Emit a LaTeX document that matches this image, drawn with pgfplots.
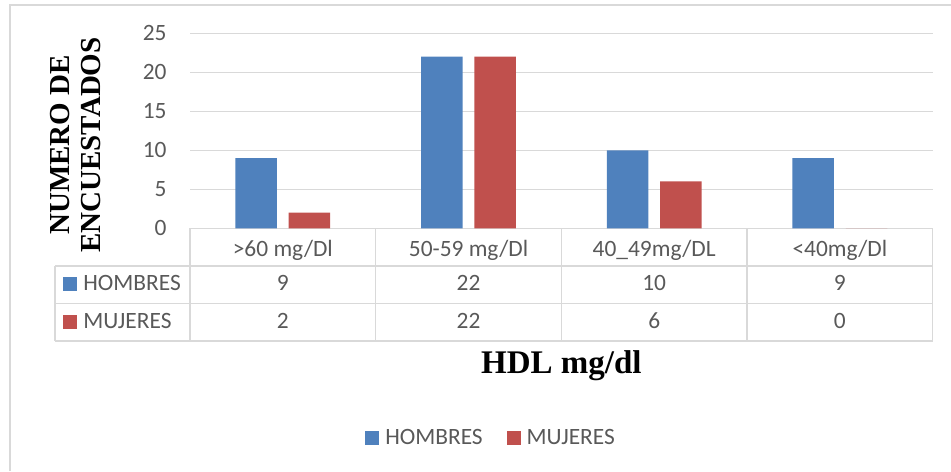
\documentclass[border=0pt]{standalone}
\usepackage{pgfplots}
\pgfplotsset{compat=1.18}
\usepackage{fontspec}
\setmainfont{Carlito}
\newfontfamily\serifb{Liberation Serif}
\definecolor{hblue}{HTML}{4F81BD}
\definecolor{mred}{HTML}{C0504D}
\definecolor{gridc}{HTML}{D9D9D9}
\definecolor{txt}{HTML}{595959}
\newcommand{\calf}{\fontsize{11.7}{14}\selectfont}
\begin{document}
\begin{tikzpicture}[x=1pt,y=1pt]
\path[use as bounding box] (0,0) rectangle (475.5,235.5);
\draw[gridc, line width=0.65pt] (5,0) -- (5,233) -- (475.5,233);
\begin{axis}[
  at={(95pt,121.35pt)}, anchor=south west,
  width=371.35pt, height=97.5pt, scale only axis,
  xmin=-0.5, xmax=3.5, ymin=0, ymax=25,
  ybar=5.9pt, bar width=20.75pt,
  axis line style={draw=none},
  ytick={0,5,10,15,20,25},
  ymajorgrids, major grid style={gridc, line width=0.65pt},
  tick style={draw=none},
  xtick={0,1,2,3},
  xticklabels={{>60 mg/Dl},{50-59 mg/Dl},{40\_49mg/DL},{<40mg/Dl}},
  /pgf/number format/assume math mode=true,
  ticklabel style={font=\calf, text=txt},
  xticklabel style={anchor=base, inner sep=0pt, yshift=-9.85pt},
  yticklabel style={anchor=east, inner sep=0pt, xshift=-11.5pt},
  xlabel={HDL mg/dl},
  xlabel style={at={(axis description cs:0.5,-0.7436)}, anchor=base, font=\serifb\bfseries\fontsize{16.5}{18}\selectfont, text=black},
  ylabel={NUMERO DE\\ENCUESTADOS},
  ylabel style={at={(axis description cs:-0.1542,0.427)}, anchor=center, rotate=0, align=center, font=\serifb\bfseries\fontsize{14.5}{15.5}\selectfont, text=black},
  legend style={at={(axis description cs:0.404,-1.075)}, anchor=center, draw=none, fill=none,
    legend columns=2, font=\calf, text=txt, nodes={inner sep=0pt},
    /tikz/every odd column/.append style={column sep=3pt},
    /tikz/every even column/.append style={column sep=12pt}},
  legend image code/.code={\fill[#1] (0pt,-3.5pt) rectangle (7pt,3.5pt);},
]
\addplot[fill=hblue, draw=none] coordinates {(0,9) (1,22) (2,10) (3,9)};
\addplot[fill=mred, draw=none] coordinates {(0,2) (1,22) (2,6) (3,0)};
\legend{HOMBRES, MUJERES}
\end{axis}
% data table grid
\begin{scope}[gridc, line width=0.65pt]
\draw (27.5,102.5) -- (466.35,102.5);
\draw (27.5,83.75) -- (466.35,83.75);
\draw (27.5,65) -- (466.35,65);
\draw (27.5,102.5) -- (27.5,65);
\foreach \x in {95,187.84,280.68,373.51,466.35} \draw (\x,121.35) -- (\x,65);
\end{scope}
% row keys
\fill[hblue] (31.5,90) rectangle (38.5,97);
\fill[mred] (31.5,71) rectangle (38.5,78);
\node[anchor=base west, inner sep=0pt, font=\calf, text=txt] at (41.5,90) {HOMBRES};
\node[anchor=base west, inner sep=0pt, font=\calf, text=txt] at (41.5,71) {MUJERES};
\foreach \x/\h/\m in {141.42/9/2, 234.26/22/22, 327.10/10/6, 419.94/9/0} {
  \node[anchor=base, inner sep=0pt, font=\calf, text=txt] at (\x,90) {\h};
  \node[anchor=base, inner sep=0pt, font=\calf, text=txt] at (\x,71) {\m};
}
\end{tikzpicture}
\end{document}
